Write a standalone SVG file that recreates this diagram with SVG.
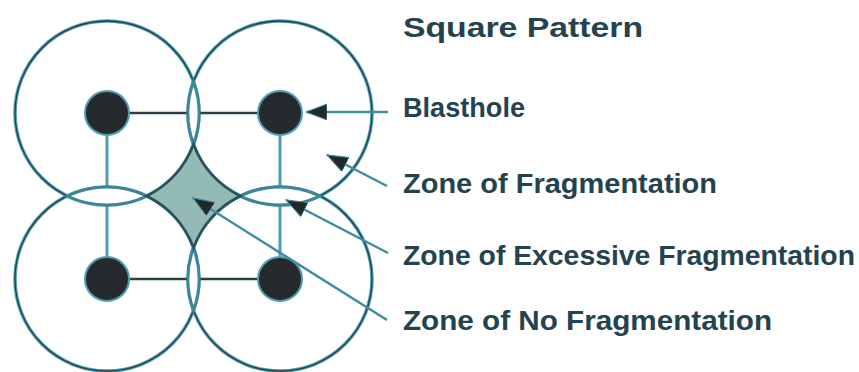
<svg xmlns="http://www.w3.org/2000/svg" width="859" height="372" viewBox="0 0 859 372">
<defs>
<style>
.zone{fill:none;stroke:#4f9db0;stroke-width:3.5}
.zone-core{fill:none;stroke:#24424b;stroke-width:1.3}
.lens{fill:#ffffff;stroke:#3d8698;stroke-width:3}
.hline{stroke:#2c3d43;stroke-width:2.5}
.vline{stroke:#4f9db0;stroke-width:3}
.hole{fill:#262a2c;stroke:#4f9db0;stroke-width:2}
.leader{stroke:#3f8d9f;stroke-width:2.5;fill:none}
.lbl{font-family:"Liberation Sans",Arial,sans-serif;font-weight:bold;font-size:27px;fill:#24434e}
</style>
<marker id="arr" markerUnits="userSpaceOnUse" markerWidth="24" markerHeight="18" refX="21" refY="8" orient="auto">
<path d="M0,0 L21,8 L0,16 Z" fill="#22292c" stroke="#3f8d9f" stroke-width="1"/>
</marker>
</defs>
<rect width="859" height="372" fill="#ffffff"/>
<g id="zones">
<circle class="zone" cx="107" cy="113" r="92"/>
<circle class="zone" cx="280" cy="113" r="92"/>
<circle class="zone" cx="107" cy="279" r="92"/>
<circle class="zone" cx="280" cy="279" r="92"/>
<circle class="zone-core" cx="107" cy="113" r="92"/>
<circle class="zone-core" cx="280" cy="113" r="92"/>
<circle class="zone-core" cx="107" cy="279" r="92"/>
<circle class="zone-core" cx="280" cy="279" r="92"/>
</g>
<g id="grid">
<line class="hline" x1="107" y1="113" x2="280" y2="113"/>
<line class="hline" x1="107" y1="279" x2="280" y2="279"/>
<line class="vline" x1="107" y1="113" x2="107" y2="279"/>
<line class="vline" x1="280" y1="113" x2="280" y2="279"/>
</g>
<g id="excessive-zones">
<path class="lens" d="M193.5,81.7 A92,92 0 0 1 193.5,144.3 A92,92 0 0 1 193.5,81.7 Z"/>
<path class="lens" d="M193.5,247.7 A92,92 0 0 1 193.5,310.3 A92,92 0 0 1 193.5,247.7 Z"/>
<path class="lens" d="M146.7,196 A92,92 0 0 1 67.3,196 A92,92 0 0 1 146.7,196 Z"/>
<path class="lens" d="M319.7,196 A92,92 0 0 1 240.3,196 A92,92 0 0 1 319.7,196 Z"/>
</g>
<g id="no-fragmentation">
<path d="M193.5,144.3 A92,92 0 0 1 146.7,196 A92,92 0 0 1 193.5,247.7 A92,92 0 0 1 240.3,196 A92,92 0 0 1 193.5,144.3 Z" fill="#94bab6" stroke="#2c4f58" stroke-width="2.5"/>
</g>
<g id="blastholes">
<circle class="hole" cx="107" cy="113" r="22"/>
<circle class="hole" cx="280" cy="113" r="22"/>
<circle class="hole" cx="107" cy="279" r="22"/>
<circle class="hole" cx="280" cy="279" r="22"/>
</g>
<g id="connectors">
<line class="leader" x1="388" y1="112" x2="306" y2="112" marker-end="url(#arr)"/>
<line class="leader" x1="387" y1="186" x2="327" y2="155" marker-end="url(#arr)"/>
<line class="leader" x1="388" y1="253" x2="286" y2="200" marker-end="url(#arr)"/>
<line class="leader" x1="387" y1="320" x2="193" y2="198" marker-end="url(#arr)"/>
</g>
<g id="labels">
<text class="lbl" x="403" y="37" textLength="240" lengthAdjust="spacingAndGlyphs">Square Pattern</text>
<text class="lbl" x="403" y="117" textLength="122" lengthAdjust="spacingAndGlyphs">Blasthole</text>
<text class="lbl" x="403" y="193" textLength="314" lengthAdjust="spacingAndGlyphs">Zone of Fragmentation</text>
<text class="lbl" x="403" y="265" textLength="452" lengthAdjust="spacingAndGlyphs">Zone of Excessive Fragmentation</text>
<text class="lbl" x="403" y="330" textLength="369" lengthAdjust="spacingAndGlyphs">Zone of No Fragmentation</text>
</g>
</svg>
